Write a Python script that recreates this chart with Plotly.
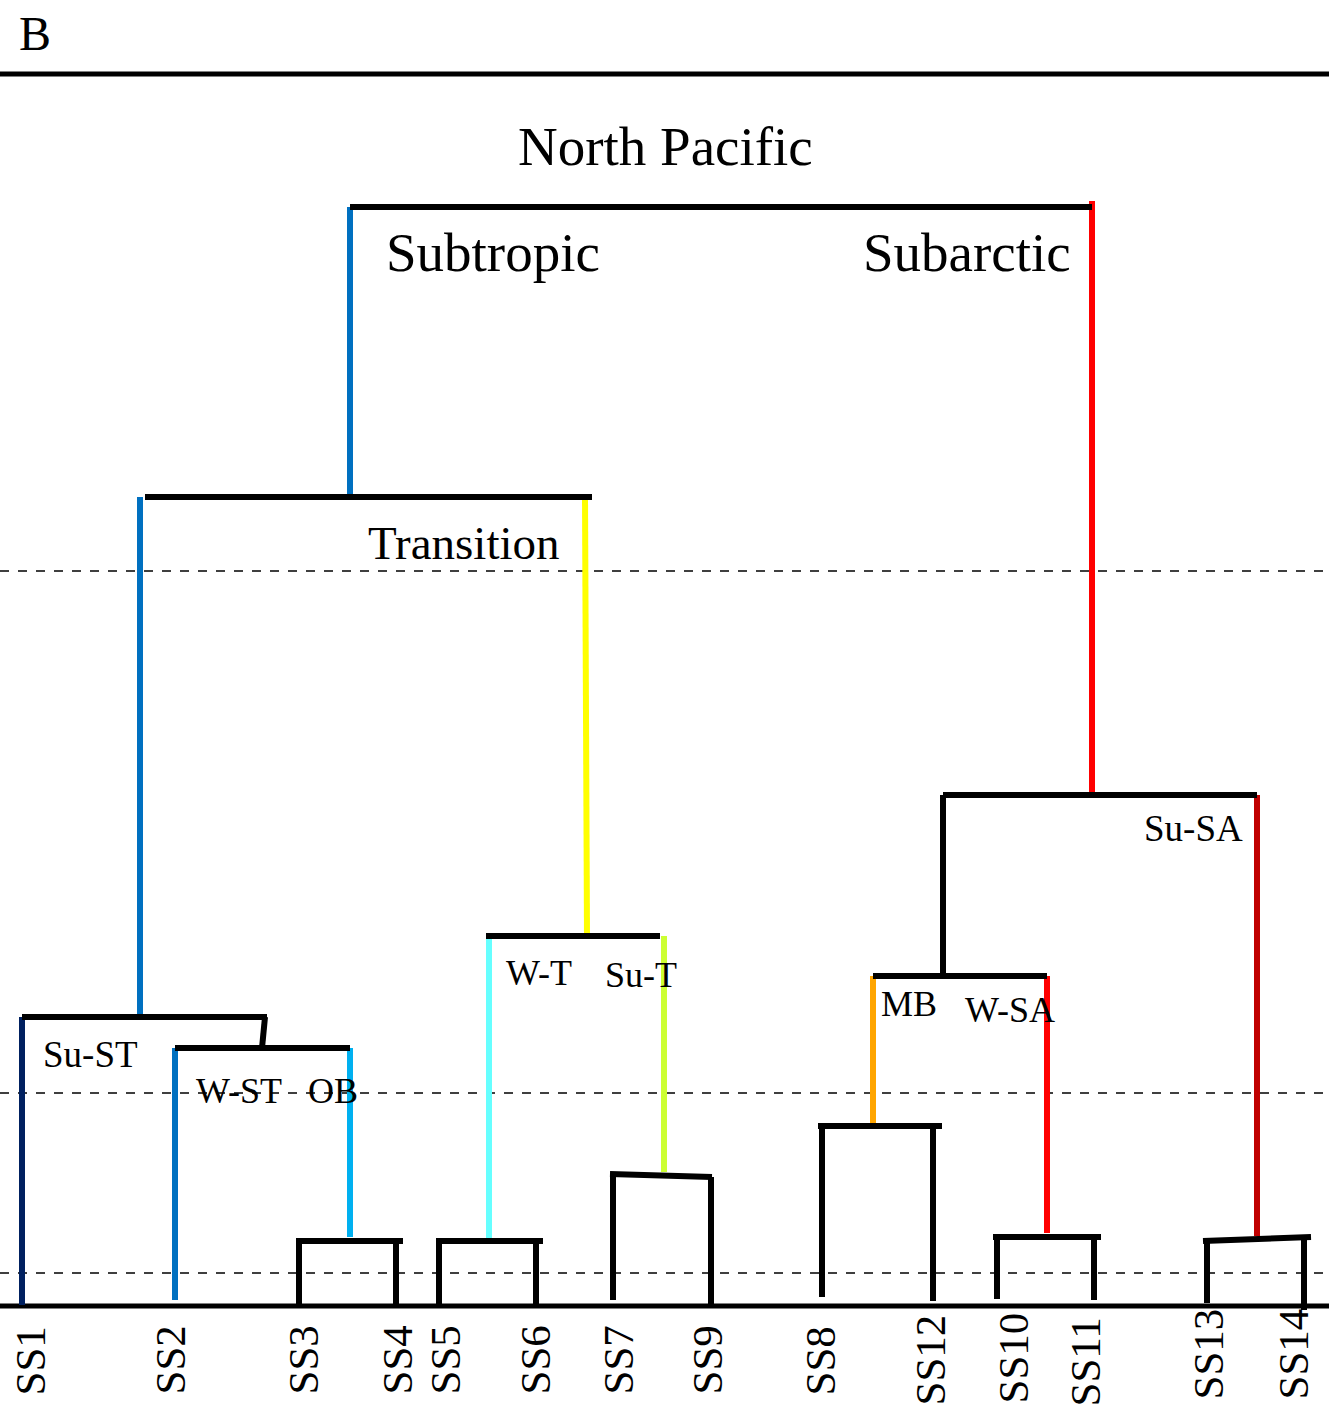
import plotly.graph_objects as go

# ---- leaves (left to right) ----
leaf_labels = ["SS1", "SS2", "SS3", "SS4", "SS5", "SS6", "SS7", "SS9",
               "SS8", "SS12", "SS10", "SS11", "SS13", "SS14"]
leaf_pos = [22, 175, 299, 396, 439, 536, 613, 711, 822, 933, 997, 1094, 1207, 1304]
label_pos = [30, 170, 303, 397, 445, 535, 618, 707, 820, 930, 1013, 1085, 1208, 1293]
label_bottom = [-92, -91, -91, -91, -91, -91, -91, -91, -92, -102, -100, -103, -96, -96]

# ---- merges: bar height at each end, leg positions, leg bottoms, leg colours ----
merge_names = ["SS3-SS4", "SS5-SS6", "SS7-SS9", "SS8-SS12", "SS10-SS11", "SS13-SS14",
               "W-ST/OB", "Su-ST", "W-T/Su-T", "MB/W-SA", "Su-SA", "Subtropic", "North Pacific"]
bar_h_left = [65, 65, 132, 180, 69, 65, 258, 289, 370, 330, 511, 809, 1099]
bar_h_right = [65, 65, 129, 180, 69, 69, 258, 289, 370, 330, 511, 809, 1099]
leg_x_left = [299, 439, 613, 822, 997, 1207, 175, 22, 489, 873, 943, 140, 350]
leg_x_right = [396, 536, 711, 933, 1094, 1304, 350, 265, 664, 1047, 1257, 585, 1092]
leg_x_right_bottom = [396, 536, 711, 933, 1094, 1304, 350, 262, 664, 1047, 1257, 587, 1092]
bar_x_left = [296, 436, 610, 818, 993, 1203, 175, 22, 486, 873, 943, 145, 350]
bar_x_right = [403, 543, 712, 942, 1101, 1311, 350, 267, 660, 1047, 1257, 592, 1092]
leg_bot_left = [1, 1, 6, 9, 7, 3, 6, 1, 68, 182, 330, 291, 811]
leg_bot_right = [1, 1, 1, 5, 6, -4, 69, 258, 134, 73, 70, 371, 514]
leg_top_right_extra = [0, 0, 0, 0, 0, 0, 0, 0, 0, 0, 0, 0, 6]
col_left = ["#000000", "#000000", "#000000", "#000000", "#000000", "#000000",
            "#0070C0", "#002060", "#66FFFF", "#FFA500", "#000000", "#0070C0", "#0070C0"]
col_right = ["#000000", "#000000", "#000000", "#000000", "#000000", "#000000",
             "#00B0F0", "#000000", "#CCFF33", "#FF0000", "#C00000", "#FFFF00", "#FF0000"]

# ---- cut levels and frame lines ----
cut_heights = [735, 213, 33]
frame_top = 1232
baseline = 0

# ---- group labels ----
group_text = ["North Pacific", "Subtropic", "Subarctic", "Transition", "Su-ST", "W-ST", "OB",
              "W-T", "Su-T", "MB", "W-SA", "Su-SA"]
group_x = [665, 493, 967, 464, 90, 239, 333, 539, 641, 909, 1010, 1193]
group_h = [1160, 1054, 1054, 763, 252, 215, 215, 333, 331, 302, 296, 478]
group_size = [55, 55, 55, 47, 37, 36, 36, 36, 36, 36, 36, 37]

FONT = "Liberation Serif"
W, H = 1329, 1410
Y0 = 1306  # pixel row of the baseline

fig = go.Figure()


def seg(xs, ys, color, width, dash=None):
    fig.add_trace(go.Scatter(x=xs, y=ys, mode="lines", hoverinfo="skip",
                             line=dict(color=color, width=width, dash=dash), showlegend=False))


# dashed cut levels
for h in cut_heights:
    seg([0, W], [h, h], "#000000", 1.6, dash="dash")

# frame lines
seg([0, W], [frame_top, frame_top], "#000000", 5)
seg([0, W], [baseline, baseline], "#000000", 5)

# dendrogram legs then bars
for i in range(len(merge_names)):
    seg([leg_x_left[i], leg_x_left[i]], [bar_h_left[i], leg_bot_left[i]], col_left[i], 6)
    seg([leg_x_right[i], leg_x_right_bottom[i]],
        [bar_h_right[i] + leg_top_right_extra[i], leg_bot_right[i]], col_right[i], 6)
for i in range(len(merge_names)):
    seg([bar_x_left[i], bar_x_right[i]], [bar_h_left[i], bar_h_right[i]], "#000000", 6)

annotations = []
for t, x, h, s in zip(group_text, group_x, group_h, group_size):
    annotations.append(dict(x=x, y=h, text=t, showarrow=False, xanchor="center", yanchor="middle",
                            font=dict(family=FONT, size=s, color="#000000")))
for t, x, b in zip(leaf_labels, label_pos, label_bottom):
    annotations.append(dict(x=x, y=b, text=t, showarrow=False, textangle=-90,
                            xanchor="center", yanchor="bottom",
                            font=dict(family=FONT, size=43, color="#000000")))
annotations.append(dict(x=35, y=Y0 - 33, text="B", showarrow=False, xanchor="center",
                        yanchor="middle", font=dict(family=FONT, size=48, color="#000000")))

fig.update_layout(
    width=W, height=H, margin=dict(l=0, r=0, t=0, b=0),
    paper_bgcolor="white", plot_bgcolor="white",
    xaxis=dict(range=[0, W], visible=False, fixedrange=True),
    yaxis=dict(range=[Y0 - H, Y0], visible=False, fixedrange=True),
    annotations=annotations,
)

fig.write_html("out.html")
